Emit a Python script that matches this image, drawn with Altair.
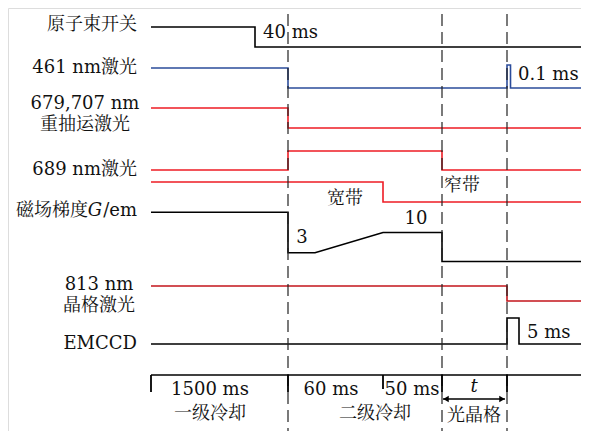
import altair as alt
import pandas as pd

# ---- schematic time axis (not to scale), in diagram units ----
T_END = 438
t_beam_off = 104
t1 = 137        # end of first-stage cooling (1500 ms)
t_ramp0 = 164
t_ramp1 = 232   # end of 60 ms
t2 = 291        # end of 50 ms
t3 = 356        # end of lattice hold t
t_blue_end = 359.5
t_cam_end = 368

# ---- signal waveforms: (time, level) ----
beam_t = [0, t_beam_off, T_END]; beam_v = [1, 0, 0]
blue_t = [0, t1, t3, t_blue_end, T_END]; blue_v = [1, 0, 1.15, 0, 0]
rep_t = [0, t1, T_END]; rep_v = [1, 0, 0]
n689_t = [0, t1, t2, T_END]; n689_v = [0, 1, 0, 0]
b689_t = [0, t_ramp1, T_END]; b689_v = [1, 0, 0]
grad_t = [0, t1, t1, t_ramp0, t_ramp1, t2, t2, T_END]; grad_v = [17, 17, 3, 3, 10, 10, 0, 0]
lat_t = [0, t3, T_END]; lat_v = [1, 0, 0]
cam_t = [0, t3, t_cam_end, T_END]; cam_v = [0, 1, 0, 0]

# row layout: (times, levels, baseline y, px per unit, colour, interpolation)
rows = [
    (beam_t, beam_v, 47, 20, "#000000", "step-after"),
    (blue_t, blue_v, 88, 20, "#2b4c9b", "step-after"),
    (rep_t, rep_v, 128, 20, "#ee1c25", "step-after"),
    (n689_t, n689_v, 170, 19, "#ee1c25", "step-after"),
    (b689_t, b689_v, 202, 20, "#ee1c25", "step-after"),
    (grad_t, grad_v, 261.5, 2.9, "#000000", "linear"),
    (lat_t, lat_v, 301, 15, "#c4161c", "step-after"),
    (cam_t, cam_v, 344, 26, "#000000", "step-after"),
]

FONT = "DejaVu Serif, Noto Serif CJK SC, Noto Sans CJK SC"
FS = 18

xs = alt.Scale(domain=[-143, 430], range=[0, 573])
ys = alt.Scale(domain=[8, 431], reverse=True)

layers = []
for i, (tt, vv, y0, amp, col, interp) in enumerate(rows):
    df = pd.DataFrame({"t": tt, "y": [y0 - amp * v for v in vv], "o": list(range(len(tt)))})
    layers.append(
        alt.Chart(df).mark_line(color=col, strokeWidth=1.6, interpolate=interp, clip=True)
        .encode(x=alt.X("t:Q", scale=xs, axis=None),
                y=alt.Y("y:Q", scale=ys, axis=None),
                order="o:Q")
    )

# dashed phase boundaries
dash_df = pd.DataFrame({"t": [t1, t2, t3], "y": [14] * 3, "y2": [439] * 3})
layers.append(
    alt.Chart(dash_df).mark_rule(color="#222", strokeWidth=1.2, strokeDash=[12, 6], clip=True)
    .encode(x=alt.X("t:Q", scale=xs), y=alt.Y("y:Q", scale=ys), y2="y2:Q")
)

# timeline
tl_df = pd.DataFrame({"t": [0], "t2": [T_END], "y": [375]})
layers.append(
    alt.Chart(tl_df).mark_rule(color="#000", strokeWidth=1.6, clip=True)
    .encode(x=alt.X("t:Q", scale=xs), x2="t2:Q", y=alt.Y("y:Q", scale=ys))
)
tick_t = [0, t1, t_ramp1, t2, t3]
tick_df = pd.DataFrame({"t": tick_t, "y": [375] * 5, "y2": [392, 392, 389, 392, 392]})
layers.append(
    alt.Chart(tick_df).mark_rule(color="#000", strokeWidth=1.8)
    .encode(x=alt.X("t:Q", scale=xs), y=alt.Y("y:Q", scale=ys), y2="y2:Q")
)

# double arrow for t
arr_df = pd.DataFrame({"t": [t2 + 1], "t2": [t3 - 2], "y": [399]})
layers.append(
    alt.Chart(arr_df).mark_rule(color="#000", strokeWidth=1.4)
    .encode(x=alt.X("t:Q", scale=xs), x2="t2:Q", y=alt.Y("y:Q", scale=ys))
)
head_df = pd.DataFrame({"t": [t2 + 4, t3 - 5], "y": [399, 399],
                        "s": ["triangle-left", "triangle-right"]})
layers.append(
    alt.Chart(head_df).mark_point(filled=True, color="#000", size=40, opacity=1)
    .encode(x=alt.X("t:Q", scale=xs), y=alt.Y("y:Q", scale=ys),
            shape=alt.Shape("s:N", scale=alt.Scale(domain=["triangle-left", "triangle-right"],
                                                   range=["triangle-left", "triangle-right"]),
                            legend=None))
)

# ---- text ----
left_labels = ["原子束开关", "461 nm激光", "689 nm激光", "/em", "磁场梯度", "EMCCD"]
left_y = [25, 68, 170, 211, 211, 344]
left_x = [-14, -14, -14, -14, -63, -14]

center_labels = ["679,707 nm", "重抽运激光", "813 nm", "晶格激光",
                 "3", "10", "宽带", "窄带",
                 "1500 ms", "一级冷却", "60 ms", "50 ms", "二级冷却", "光晶格"]
center_x = [-66, -66, -52, -52,
            151, 265, 194, 311,
            59, 59, 180, 261, 224, 323]
center_y = [104, 125, 285, 306,
            238, 219, 199, 186,
            390, 414, 390, 390, 414, 416]

start_labels = ["40 ms", "0.1 ms", "5 ms"]
start_x = [112, 367, 376]
start_y = [33, 75, 333]

italic_labels = ["G", "t"]
italic_x = [-56, 323]
italic_y = [211, 387]


def text_layer(labels, xv, yv, align, style="normal"):
    df = pd.DataFrame({"txt": labels, "t": xv, "y": yv})
    return alt.Chart(df).mark_text(align=align, baseline="middle", font=FONT,
                                   fontSize=FS, color="#111", fontStyle=style).encode(
        x=alt.X("t:Q", scale=xs), y=alt.Y("y:Q", scale=ys), text="txt:N")


layers.append(text_layer(left_labels, left_x, left_y, "right"))
layers.append(text_layer(center_labels, center_x, center_y, "center"))
layers.append(text_layer(start_labels, start_x, start_y, "left"))
layers.append(text_layer(italic_labels, italic_x, italic_y, "center", "italic"))

chart = alt.layer(*layers).properties(
    width=573, height=423, padding=0, autosize=alt.AutoSizeParams(type="none")
).configure_view(stroke=None).configure(background="white")

chart.save("out.html", embed_options={"renderer": "svg", "actions": False})
